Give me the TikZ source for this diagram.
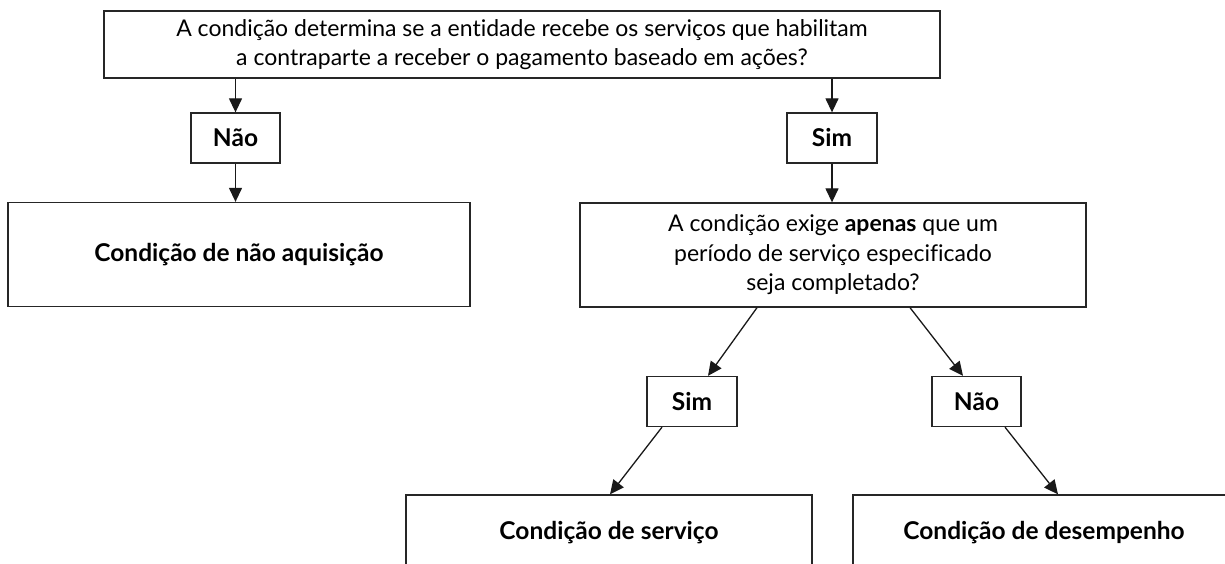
\documentclass[tikz,border=0pt]{standalone}
\usepackage{fontspec}
\setmainfont{Lato}[Ligatures=NoCommon]
\usetikzlibrary{arrows.meta}
\begin{document}
\begin{tikzpicture}[x=1pt,y=-1pt,
  box/.style={draw=black!85, line width=1.3pt, inner sep=0pt, align=center,
    font=\fontsize{23}{29.5}\selectfont},
  lbl/.style={box, font=\fontsize{24.5}{30}\selectfont\bfseries},
  arr/.style={line width=1.3pt, draw=black!90, -{Triangle[length=14pt,width=13pt]}}]
\useasboundingbox (0,0) rectangle (1225,564);
\fill[white] (0,0) rectangle (1225,564);
\clip (0,0) rectangle (1225,564);
\node[box, minimum width=836pt, minimum height=67pt] (top) at (522,44.5)
  {A condição determina se a entidade recebe os serviços que habilitam\\
   a contraparte a receber o pagamento baseado em ações?};
\node[lbl, minimum width=89pt, minimum height=50pt] (nao1) at (235.5,138) {Não};
\node[lbl, minimum width=90pt, minimum height=50pt] (sim1) at (832,138) {Sim};
\node[lbl, minimum width=462pt, minimum height=104pt] (naoaq) at (239,254.5) {Condição de não aquisição};
\node[box, minimum width=506pt, minimum height=104pt] (q) at (833,255)
  {A condição exige \textbf{apenas} que um\\ período de serviço especificado\\ seja completado?};
\node[lbl, minimum width=90pt, minimum height=50pt] (sim2) at (692,401.5) {Sim};
\node[lbl, minimum width=89pt, minimum height=50pt] (nao2) at (976.5,401.5) {Não};
\node[lbl, minimum width=406pt, minimum height=76pt] (serv) at (609,533) {Condição de serviço};
\node[lbl, minimum width=382pt, minimum height=76pt] (desemp) at (1044,533) {Condição de desempenho};
\draw[arr] (top.south -| nao1.north) -- (nao1.north);
\draw[arr] (top.south -| sim1.north) -- (sim1.north);
\draw[arr] (nao1.south) -- (nao1.south |- naoaq.north);
\draw[arr] (sim1.south) -- (sim1.south |- q.north);
\draw[arr] ([xshift=-76pt]q.south) -- ([xshift=16pt]sim2.north);
\draw[arr] ([xshift=77pt]q.south) -- ([xshift=-13.5pt]nao2.north);
\draw[arr] ([xshift=-30pt]sim2.south) -- ([xshift=1pt]serv.north);
\draw[arr] ([xshift=28.5pt]nao2.south) -- ([xshift=14pt]desemp.north);
\end{tikzpicture}
\end{document}
